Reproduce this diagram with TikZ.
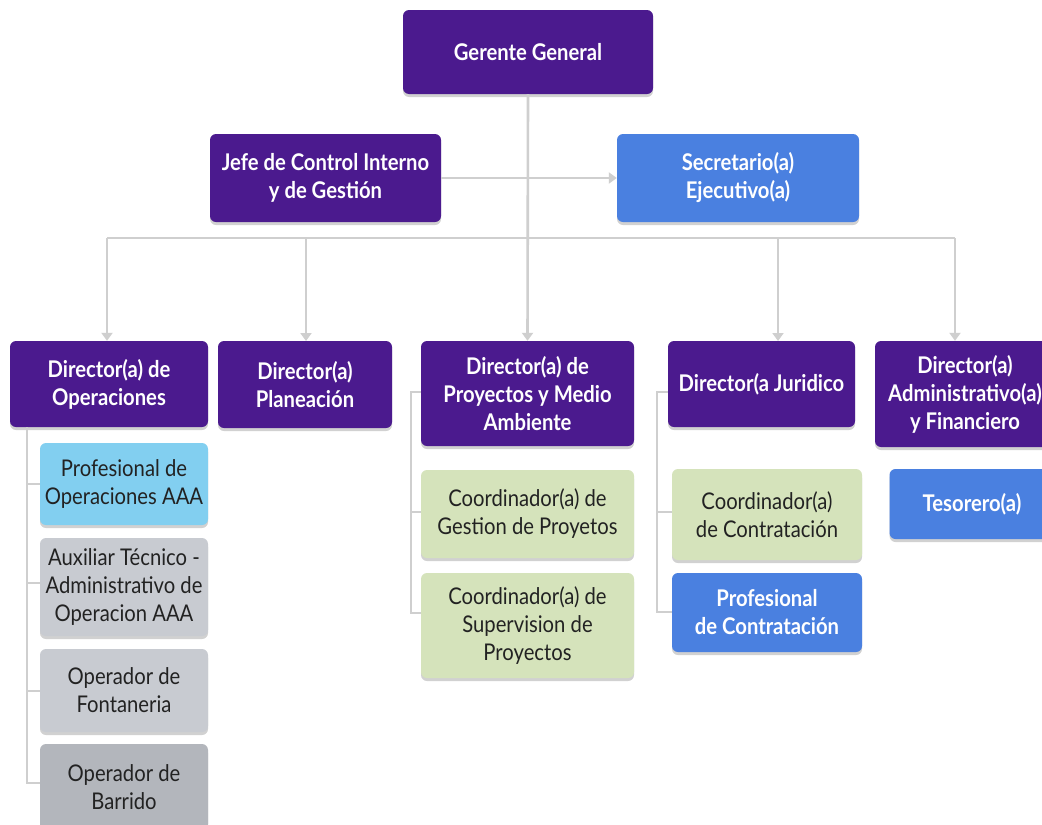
\documentclass[tikz,border=0pt]{standalone}
\usepackage{fontspec}
\setmainfont{Lato}[FakeStretch=0.88]
\usetikzlibrary{arrows.meta,shadows}
\definecolor{purp}{HTML}{4B1A8E}
\definecolor{blu}{HTML}{4A80E0}
\definecolor{lblu}{HTML}{82CFF0}
\definecolor{gry}{HTML}{C8CBD1}
\definecolor{dgry}{HTML}{B3B6BC}
\definecolor{grn}{HTML}{D5E3BB}
\definecolor{lin}{HTML}{CFCFCF}
\definecolor{txt}{HTML}{222222}
\begin{document}
\begin{tikzpicture}[x=1pt,y=-1pt,
  box/.style={rounded corners=6pt, align=center, inner sep=2pt,
    font=\fontsize{23}{28}\selectfont,
    drop shadow={shadow xshift=0pt, shadow yshift=-3pt, opacity=0.18, fill=black}},
  pbox/.style={box, fill=purp, text=white, font=\fontsize{23}{28}\selectfont\bfseries},
  bbox/.style={box, fill=blu, text=white, font=\fontsize{23}{28}\selectfont\bfseries},
  lbbox/.style={box, fill=lblu, text=txt},
  gbox/.style={box, fill=gry, text=txt},
  dgbox/.style={box, fill=dgry, text=txt},
  grbox/.style={box, fill=grn, text=txt},
  conn/.style={draw=lin, line width=2.6pt},
  arr/.style={conn, -{Triangle[width=11pt,length=8pt]}}
]
\useasboundingbox (0,0) rectangle (1042,825);
\clip (0,0) rectangle (1042,825);
\fill[white] (0,0) rectangle (1042,825);

% top level
\node[pbox, minimum width=250pt, minimum height=84pt] (gg) at (528,52) {Gerente General};
\node[pbox, minimum width=231pt, minimum height=88pt] (jefe) at (325.5,178) {Jefe de Control Interno\\y de Gestión};
\node[bbox, minimum width=242pt, minimum height=88pt] (sec) at (738,178) {Secretario(a)\\Ejecutivo(a)};

% directors
\node[pbox, minimum width=198pt, minimum height=86pt] (dop) at (109,384) {Director(a) de\\Operaciones};
\node[pbox, minimum width=174pt, minimum height=87pt] (dpl) at (305,384.5) {Director(a)\\Planeación};
\node[pbox, minimum width=213pt, minimum height=105pt] (dpr) at (527.5,393.5) {Director(a) de\\Proyectos y Medio\\Ambiente};
\node[pbox, minimum width=187pt, minimum height=86pt] (dju) at (761.5,384) {Director(a Juridico};
\node[pbox, minimum width=180pt, minimum height=106pt] (dad) at (965,394) {Director(a)\\Administrativo(a)\\y Financiero};

% operaciones column
\node[lbbox, minimum width=168pt, minimum height=82pt] (p1) at (124,484) {Profesional de\\Operaciones AAA};
\node[gbox, minimum width=168pt, minimum height=98pt] (p2) at (124,587) {Auxiliar Técnico -\\Administrativo de\\Operacion AAA};
\node[gbox, minimum width=168pt, minimum height=83pt] (p3) at (124,690.5) {Operador de\\Fontaneria};
\node[dgbox, minimum width=168pt, minimum height=86pt] (p4) at (124,787) {Operador de\\Barrido};

% proyectos column
\node[grbox, minimum width=213pt, minimum height=88pt] (c1) at (527.5,514) {Coordinador(a) de\\Gestion de Proyetos};
\node[grbox, minimum width=213pt, minimum height=105pt] (c2) at (527.5,625.5) {Coordinador(a) de\\Supervision de\\Proyectos};

% juridico column
\node[grbox, minimum width=190pt, minimum height=91pt] (j1) at (767,514.5) {Coordinador(a)\\de Contratación};
\node[bbox, minimum width=190pt, minimum height=79pt] (j2) at (767,612.5) {Profesional\\de Contratación};

% admin column
\node[bbox, minimum width=165pt, minimum height=70pt] (tes) at (972,504) {Tesorero(a)};

% connectors
\coordinate (hl) at (107,238);
\coordinate (hr) at (955,238);
\draw[conn] (hl) -- (hr);
\draw[arr] (gg.south) -- (dpr.north);
\draw[arr] (jefe.east) -- (sec.west);
\draw[arr] (hl) -- (hl |- dop.north);
\draw[arr] (306,238) -- (306,341) coordinate (dplt);
\draw[arr] (778,238) -- (778,341) coordinate (djut);
\draw[arr] (hr) -- (hr |- dad.north);

% brackets
\coordinate (ob) at (27,427);
\draw[conn, line width=1.6pt] (ob) -- (27,783) -- (p4.west |- 0,783);
\draw[conn, line width=1.6pt] (27,484) -- (p1.west);
\draw[conn, line width=1.6pt] (27,583) -- (p2.west |- 0,583);
\draw[conn, line width=1.6pt] (27,691) -- (p3.west |- 0,691);

\draw[conn, line width=1.6pt] (dpr.west |- 0,392) -- (411,392) -- (411,613) -- (c2.west |- 0,613);
\draw[conn, line width=1.6pt] (411,512) -- (c1.west |- 0,512);

\draw[conn, line width=1.6pt] (dju.west |- 0,392) -- (657,392) -- (657,612) -- (j2.west |- 0,612);
\draw[conn, line width=1.6pt] (657,512) -- (j1.west |- 0,512);
\end{tikzpicture}
\end{document}
